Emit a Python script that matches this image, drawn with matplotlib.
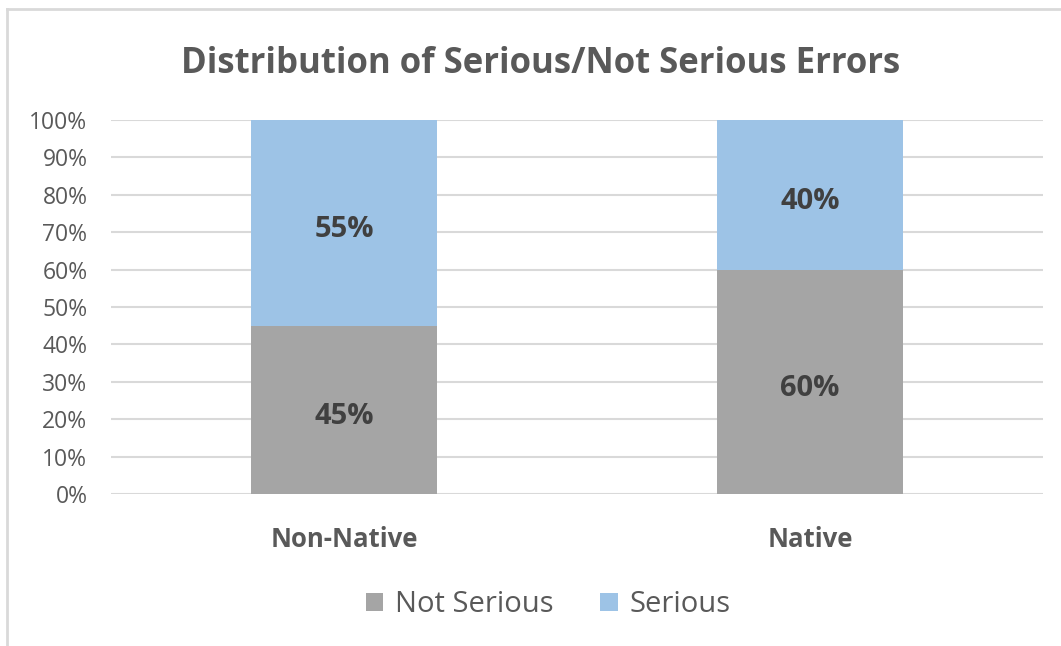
import matplotlib.pyplot as plt
from matplotlib.lines import Line2D
from matplotlib.ticker import PercentFormatter

groups = ['Non-Native', 'Native']
not_serious = [45, 60]
serious = [55, 40]
series_names = ['Not Serious', 'Serious']

grey = '#A5A5A5'
blue = '#9DC3E6'
text_color = '#595959'

plt.rcParams['font.family'] = ['Open Sans', 'DejaVu Sans']

fig = plt.figure(figsize=(10.61, 6.46), dpi=100)
ax = fig.add_axes([111 / 1061, 1 - 494 / 646, 932 / 1061, 374 / 646])

x = range(len(groups))
b1 = ax.bar(x, not_serious, width=0.4, color=grey, label=series_names[0], zorder=2)
b2 = ax.bar(x, serious, width=0.4, bottom=not_serious, color=blue, label=series_names[1], zorder=2)

# value labels in the middle of each segment
for bars, vals in ((b1, not_serious), (b2, serious)):
    for rect, v in zip(bars, vals):
        ax.annotate(f'{v}%', (rect.get_x() + rect.get_width() / 2, rect.get_y() + rect.get_height() / 2),
                    xytext=(0, -4.5), textcoords='offset points', ha='center', va='center',
                    fontsize=21, fontweight='bold', color='#404040')

ax.set_xlim(-0.5, 1.5)
ax.set_ylim(0, 100)
ax.set_yticks(range(0, 101, 10))
ax.yaxis.set_major_formatter(PercentFormatter(decimals=0))
ax.set_xticks(list(x))
ax.set_xticklabels(groups, fontsize=18.5, fontweight='bold', color=text_color)
ax.tick_params(axis='y', labelsize=16.5, labelcolor=text_color, length=0, pad=17)
ax.tick_params(axis='x', length=0, pad=23)
ax.grid(axis='y', color='#D9D9D9', linewidth=1.5, zorder=0)
for s in ax.spines.values():
    s.set_visible(False)

fig.text(541 / 1061, 1 - 64 / 646, 'Distribution of Serious/Not Serious Errors', ha='center',
         va='center', fontsize=25, fontweight='bold', color=text_color)

fig.legend(handles=[b1, b2], loc='center', bbox_to_anchor=(548 / 1061, 1 - 605 / 646), ncol=2,
           frameon=False, fontsize=21, labelcolor=text_color, handlelength=0.6,
           handleheight=0.6, handletextpad=0.4, columnspacing=1.6)

# chart frame
fig.add_artist(Line2D([7 / 1061, 7 / 1061], [0, 1 - 9 / 646], color='#D9D9D9', linewidth=2))
fig.add_artist(Line2D([7 / 1061, 1], [1 - 9 / 646, 1 - 9 / 646], color='#D9D9D9', linewidth=2))

fig.savefig('out.png', dpi=100)
